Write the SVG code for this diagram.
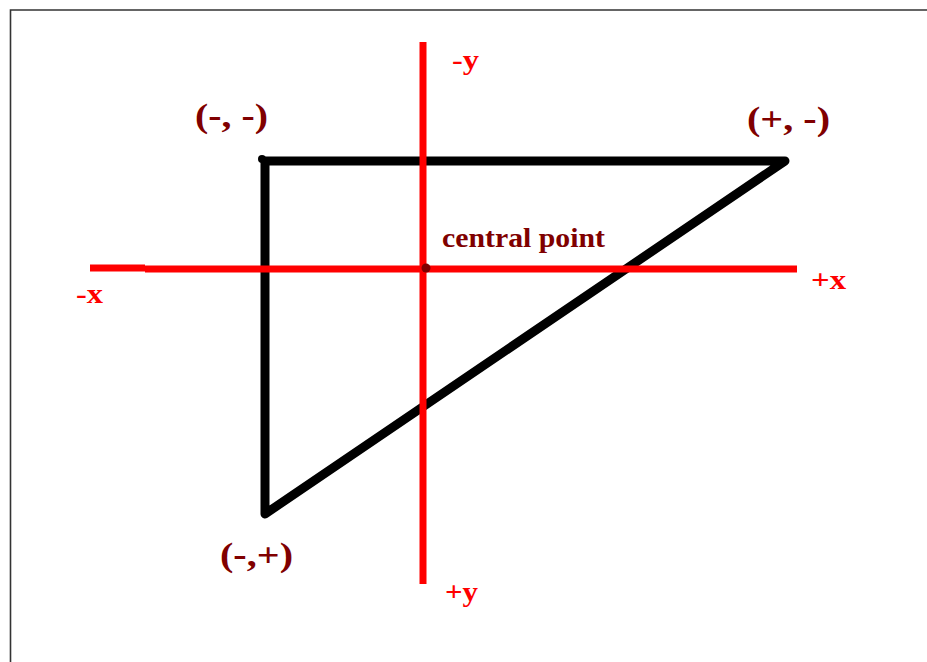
<svg xmlns="http://www.w3.org/2000/svg" width="927" height="662" viewBox="0 0 927 662">
<style>
.lbl{font-family:"Liberation Serif","Times New Roman",serif;font-weight:bold;fill:#800000;}
.ax{font-family:"Liberation Serif","Times New Roman",serif;font-weight:bold;fill:#ff0000;font-size:27px;}
.axis{stroke:#ff0000;stroke-width:7;fill:none;}
</style>
<rect width="927" height="662" fill="#ffffff"/>
<path d="M10.5,662 L10.5,10 L927,10" fill="none" stroke="#333333" stroke-width="1.6"/>
<g id="triangle">
<path d="M265,161 L785,161 L265,514 Z" fill="none" stroke="#000000" stroke-width="9" stroke-linejoin="round"/>
<circle cx="262" cy="159" r="4" fill="#000000"/>
</g>
<g id="connectors">
<path class="axis" d="M90,268 L145,268"/>
<path class="axis" d="M145,269 L797,269"/>
<path class="axis" d="M423,42 L423,584"/>
</g>
<g id="center">
<circle cx="426" cy="268" r="4.5" fill="#800000"/>
<text class="lbl" x="442" y="247" font-size="27" textLength="163" lengthAdjust="spacingAndGlyphs">central point</text>
</g>
<g id="corner-tl"><text class="lbl" x="195" y="127" font-size="33" textLength="73" lengthAdjust="spacingAndGlyphs">(-, -)</text></g>
<g id="corner-tr"><text class="lbl" x="747" y="130" font-size="33" textLength="83" lengthAdjust="spacingAndGlyphs">(+, -)</text></g>
<g id="corner-bl"><text class="lbl" x="220" y="566" font-size="33" textLength="73" lengthAdjust="spacingAndGlyphs">(-,+)</text></g>
<g id="label-negx"><text class="ax" x="76" y="303" textLength="27" lengthAdjust="spacingAndGlyphs">-x</text></g>
<g id="label-posx"><text class="ax" x="811" y="289" textLength="35" lengthAdjust="spacingAndGlyphs">+x</text></g>
<g id="label-negy"><text class="ax" x="452" y="69" textLength="27" lengthAdjust="spacingAndGlyphs">-y</text></g>
<g id="label-posy"><text class="ax" x="445" y="601" textLength="33" lengthAdjust="spacingAndGlyphs">+y</text></g>
</svg>
